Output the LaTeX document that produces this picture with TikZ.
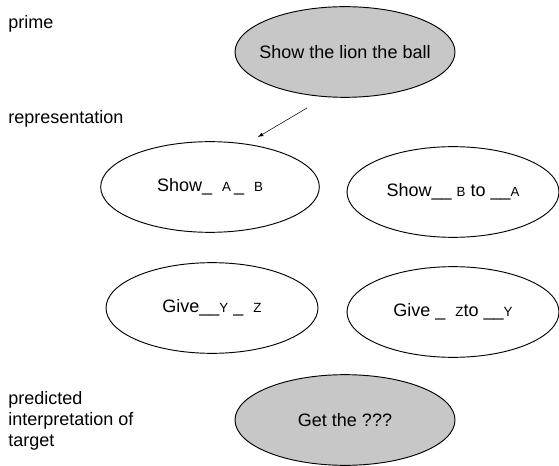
\documentclass[tikz,border=0pt]{standalone}
\usepackage{fontspec}
\setmainfont{Liberation Sans}
\usetikzlibrary{shapes.geometric}

\newcommand{\slot}[1]{{\fontsize{10}{12}\selectfont #1}}

\begin{document}
\begin{tikzpicture}[x=0.75pt,y=-0.75pt,font=\fontsize{13.5}{16}\selectfont]
            \useasboundingbox (0,0) rectangle (559,466);
            \tikzset{frame/.style={ellipse,draw=black,line width=0.7pt,inner xsep=-40pt,inner ysep=0pt}}
            \begin{scope}[every node/.style={frame,minimum width=164pt,minimum height=68pt}]
                \node[fill=black!22,minimum width=165pt] (prime) at (345,52) {Show the lion the ball};
                \node (showab) at (210,187) {Show\_\ \ \slot{A}\,\_\ \ \slot{B}};
                \node[minimum width=159pt] (showba) at (453,192) {Show\_\_\ \slot{B} to \_\_\slot{A}};
                \node[minimum width=159pt] (giveyz) at (212,308) {Give\_\_\slot{Y}\ \_\ \ \slot{Z}};
                \node[minimum width=159pt] (givezy) at (453,312) {Give\ \_\ \ \slot{Z}to \_\_\slot{Y}};
                \node[fill=black!22,minimum width=165pt] (target) at (345,420) {Get the ???};
            \end{scope}
            \begin{scope}[every node/.style={anchor=west,align=left,inner sep=0pt}]
                \node (lprime) at (8,24) {prime};
                \node (lrep) at (8,119) {representation};
                \node (ltarget) at (8,421) {predicted\\interpretation of\\target};
            \end{scope}
            \coordinate (a1) at (307,108);
            \coordinate (a2) at (258,137);
            \draw[-latex] (a1) -- (a2);
        \end{tikzpicture}
\end{document}
